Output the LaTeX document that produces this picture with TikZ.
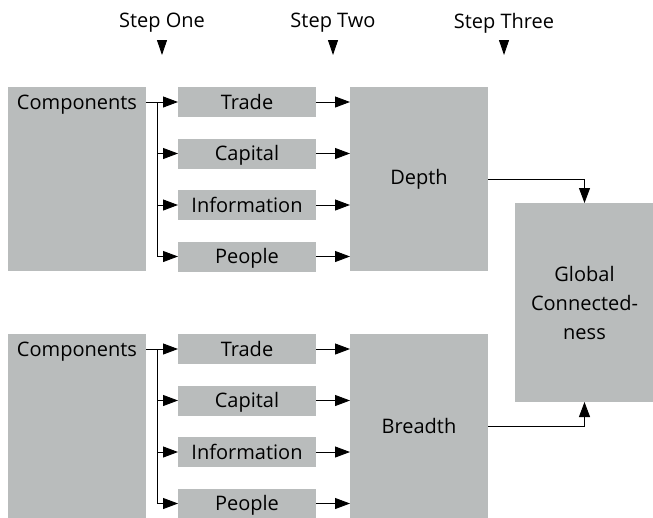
\documentclass[tikz,border=0pt]{standalone}
\usepackage{fontspec}
\setmainfont{Open Sans}
\usetikzlibrary{positioning, arrows.meta, calc}
\definecolor{boxgray}{RGB}{185,188,188}

\begin{document}
\begin{tikzpicture}[x=1pt, y=1pt, node distance=21.5pt,
    every node/.style={align=center, font=\fontsize{20}{29}\selectfont, inner sep=0pt, outer sep=0pt},
    tallbox/.style={fill=boxgray, minimum width=138pt, minimum height=184pt},
    itembox/.style={fill=boxgray, minimum width=138pt, minimum height=30pt, text height=14.5pt, text depth=0pt},
    link/.style={-{Triangle[length=15pt, width=11pt]}, line width=0.9pt},
    marker/.style={-{Triangle[length=15pt, width=10pt]}, line width=0.9pt}]
  \useasboundingbox (0,0) rectangle (653,-517);

  % steps
  \node (stepone) at (162,-23) {Step One};
  \node (steptwo) at (333,-23) {Step Two};
  \node (stepthree) at (504,-23) {Step Three};
  \draw[marker] (stepone.south |- 0,-40) -- ++(0,-15);
  \draw[marker] (steptwo.south |- 0,-40) -- ++(0,-15);
  \draw[marker] (stepthree.south |- 0,-40) -- ++(0,-15);

  % depth group
  \node[tallbox, anchor=north west, label={[anchor=north, yshift=-8pt]north:Components}] (comp1) at (8,-87) {};
  \node[itembox, right=32pt of comp1.north east, anchor=north west] (trade1) {Trade};
  \node[itembox, below=of trade1] (capital1) {Capital};
  \node[itembox, below=of capital1] (info1) {Information};
  \node[itembox, below=of info1] (people1) {People};
  \node[tallbox, right=34pt of trade1.north east, anchor=north west] (depth) {Depth};

  % breadth group
  \node[tallbox, anchor=north west, label={[anchor=north, yshift=-8pt]north:Components}] (comp2) at (8,-334) {};
  \node[itembox, right=32pt of comp2.north east, anchor=north west] (trade2) {Trade};
  \node[itembox, below=of trade2] (capital2) {Capital};
  \node[itembox, below=of capital2] (info2) {Information};
  \node[itembox, below=of info2] (people2) {People};
  \node[tallbox, right=34pt of trade2.north east, anchor=north west] (breadth) {Breadth};

  \coordinate (mid) at ($(depth.east)!0.5!(breadth.east)$);
  \node[tallbox, minimum width=139pt, minimum height=199pt, right=27pt of mid] (global) {Global\\Connected-\\ness};

  % connectors
  \draw[link] (comp1.east |- trade1) -- (trade1);
  \coordinate (fork1) at ($(comp1.east |- trade1)+(11,0)$);
  \draw[link] (fork1) |- (capital1.west);
  \draw[link] (fork1) |- (info1.west);
  \draw[link] (fork1) |- (people1.west);
  \draw[link] (comp2.east |- trade2) -- (trade2);
  \coordinate (fork2) at ($(comp2.east |- trade2)+(11,0)$);
  \draw[link] (fork2) |- (capital2.west);
  \draw[link] (fork2) |- (info2.west);
  \draw[link] (fork2) |- (people2.west);

  \foreach \item in {trade1, capital1, info1, people1}
    \draw[link] (\item) -- (\item -| depth.west);
  \foreach \item in {trade2, capital2, info2, people2}
    \draw[link] (\item) -- (\item -| breadth.west);

  \draw[link] (depth) -| (global);
  \draw[link] (breadth) -| (global);
\end{tikzpicture}
\end{document}
